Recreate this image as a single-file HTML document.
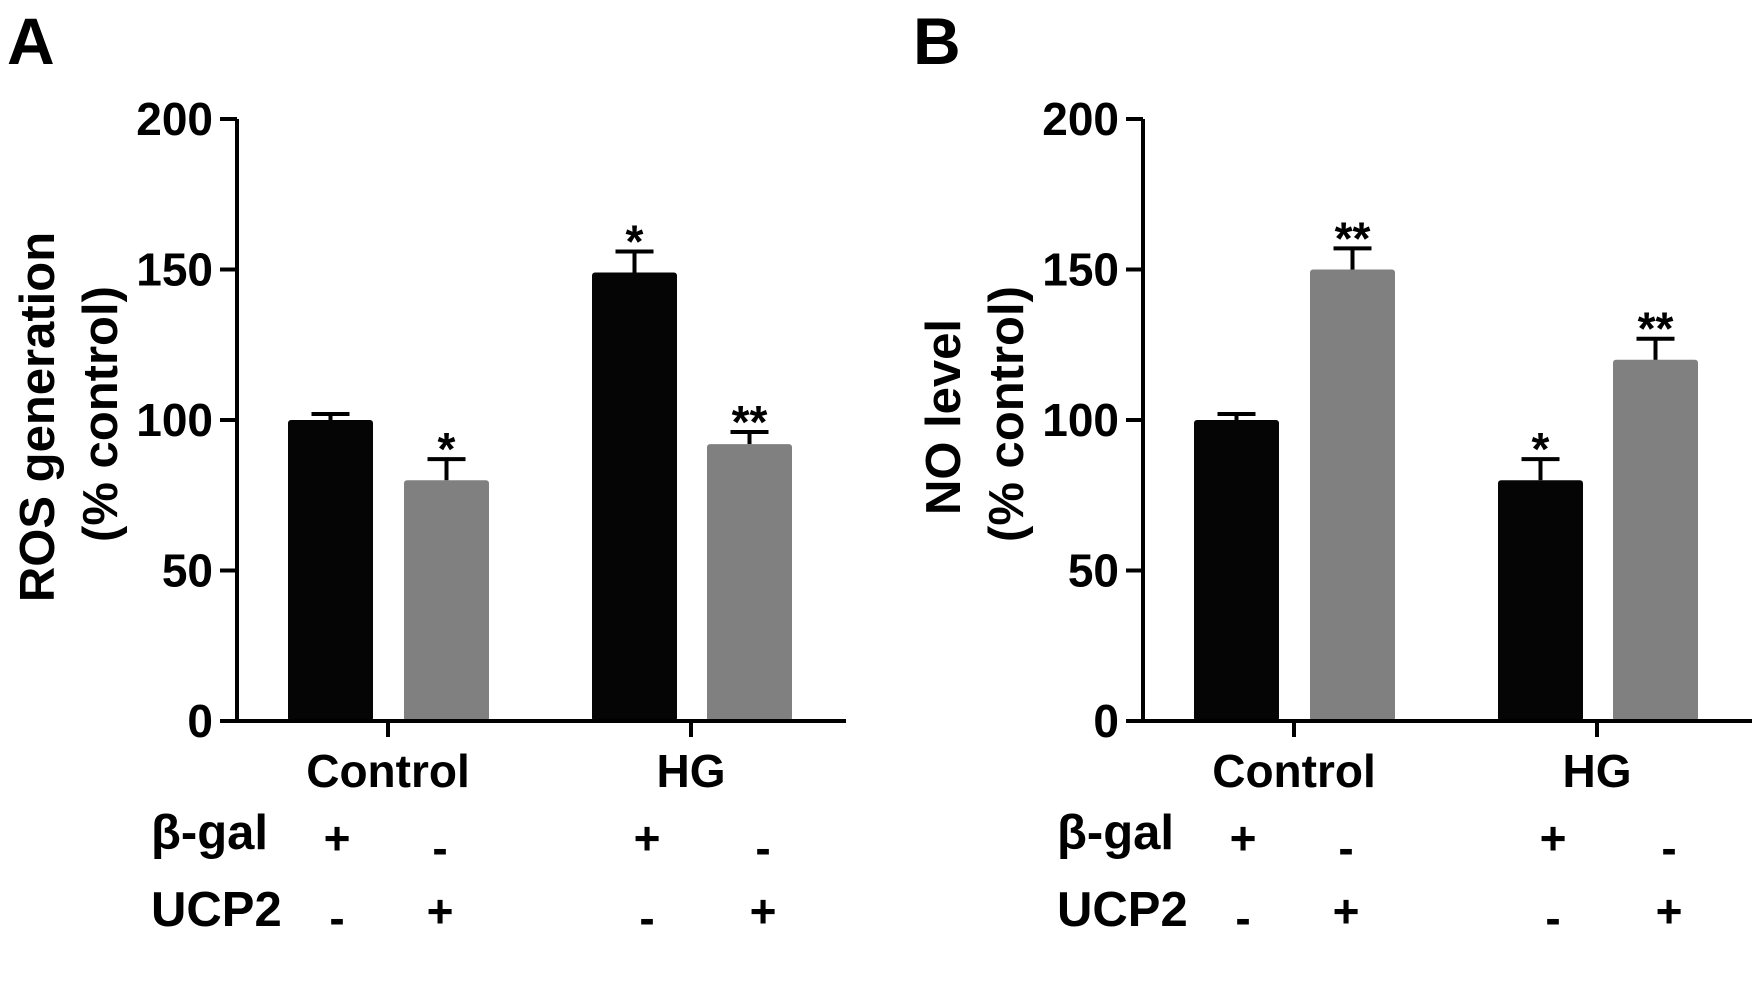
<!DOCTYPE html>
<html><head><meta charset="utf-8"><style>
html,body{margin:0;padding:0;background:#fff;}
svg{display:block;font-family:"Liberation Sans",Arial,sans-serif;font-weight:bold;}
</style></head><body>
<svg id="chart" width="1759" height="985" viewBox="0 0 1759 985"></svg>
<script>
const categories = ["Control", "HG"];
const ticks = [0, 50, 100, 150, 200];
const rosValues = [100, 80, 149, 92];
const rosErrors = [2, 7, 7, 4];
const rosStars = ["", "*", "*", "**"];
const noValues = [100, 150, 80, 120];
const noErrors = [2, 7, 7, 7];
const noStars = ["", "**", "*", "**"];
const betaGal = ["+", "-", "+", "-"];
const ucp2 = ["-", "+", "-", "+"];
const barFills = ["#050505", "#808080", "#050505", "#808080"];

const NS = "http://www.w3.org/2000/svg";
const svg = document.getElementById("chart");
function mk(tag, attrs, parent, text) {
  const e = document.createElementNS(NS, tag);
  for (const k in attrs) e.setAttribute(k, attrs[k]);
  if (text !== undefined) e.textContent = text;
  (parent || svg).appendChild(e);
  return e;
}

function panel(dx, letter, titleLines, values, errors, stars, pname) {
  const g = mk("g", {transform: "translate(" + dx + ",0)"});
  
  
  const y0 = 721, y200 = 119;
  const y = v => y0 - (v / 200) * (y0 - y200);
  const barX = [288, 404, 592, 707];
  const barW = 85;
  const colX = [337, 440, 647, 763];
  const groupX = [388, 691];

  const L = mk("text", {x: 7, y: 64, "font-size": 66}, g, letter);
  
  

  const t = mk("text", {transform: "translate(54,417) rotate(-90)", "text-anchor": "middle", "font-size": 49}, g, titleLines[0]);
  
  
  const t2 = mk("text", {transform: "translate(117,414) rotate(-90)", "text-anchor": "middle", "font-size": 49}, g, titleLines[1]);
  
  

  values.forEach((v, i) => {
    const top = y(v);
    const r = mk("rect", {x: barX[i], y: top, width: barW, height: y0 - top, fill: barFills[i], rx: 3}, g);
    
    
    const cx = barX[i] + barW / 2;
    const ye = y(v + errors[i]);
    const e1 = mk("line", {x1: cx, x2: cx, y1: top, y2: ye, stroke: "#000", "stroke-width": 4}, g);
    
    
    const e2 = mk("line", {x1: cx - 19, x2: cx + 19, y1: ye, y2: ye, stroke: "#000", "stroke-width": 4}, g);
    
    
    if (stars[i]) {
      const s = mk("text", {x: cx, y: ye + 6, "text-anchor": "middle", "font-size": 46}, g, stars[i]);
      
      
    }
  });

  const ya = mk("line", {x1: 237, x2: 237, y1: y200, y2: y0 + 1.5, stroke: "#000", "stroke-width": 4}, g);
  
  
  const xa = mk("line", {x1: 220, x2: 846, y1: y0, y2: y0, stroke: "#000", "stroke-width": 4}, g);
  
  
  ticks.forEach(v => {
    const tk = mk("line", {x1: 220, x2: 237, y1: y(v), y2: y(v), stroke: "#000", "stroke-width": 4}, g);
    
    
    const tl = mk("text", {x: 213, y: y(v) + 16, "text-anchor": "end", "font-size": 46}, g, String(v));
    
    
  });
  categories.forEach((c, i) => {
    const tk = mk("line", {x1: groupX[i], x2: groupX[i], y1: y0, y2: y0 + 16, stroke: "#000", "stroke-width": 4}, g);
    
    
    const cl = mk("text", {x: groupX[i], y: 787, "text-anchor": "middle", "font-size": 46}, g, c);
    
    
  });

  const bl = mk("text", {x: 151, y: 849, "font-size": 49}, g, "β-gal");
  
  
  const ul = mk("text", {x: 151, y: 926, "font-size": 49}, g, "UCP2");
  
  
  betaGal.forEach((s, i) => {
    const m = mk("text", {x: colX[i], y: s === "+" ? 854 : 864, "text-anchor": "middle", "font-size": 46}, g, s);
    
    
  });
  ucp2.forEach((s, i) => {
    const m = mk("text", {x: colX[i], y: s === "+" ? 927 : 934, "text-anchor": "middle", "font-size": 46}, g, s);
    
    
  });
}

panel(0, "A", ["ROS generation", "(% control)"], rosValues, rosErrors, rosStars, "panel-a-ros");
panel(906, "B", ["NO level", "(% control)"], noValues, noErrors, noStars, "panel-b-no");
</script>
</body></html>
